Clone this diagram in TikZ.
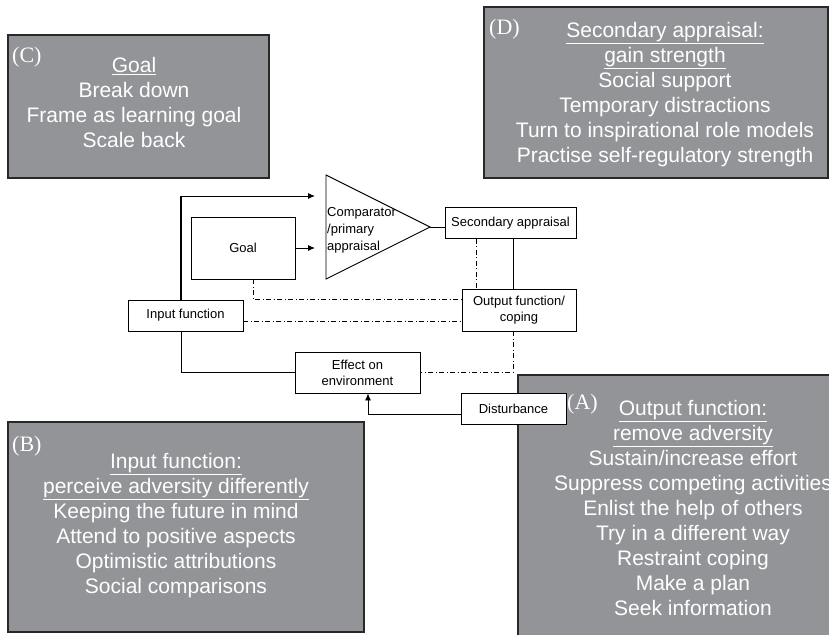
\documentclass[tikz,border=0pt]{standalone}
\usepackage{fontspec}
\setmainfont{Liberation Sans}
\newfontfamily\labfont{Liberation Serif}
\usetikzlibrary{arrows.meta,calc}
\definecolor{boxgray}{RGB}{147,148,152}
\definecolor{boxedge}{RGB}{40,40,40}
\begin{document}
\begin{tikzpicture}[x=1pt,y=-1pt,
  gbox/.style={draw=boxedge, fill=boxgray, line width=1.2pt, inner sep=0},
  gtext/.style={text=white, align=center, font=\fontsize{21}{25}\selectfont, inner sep=0},
  glab/.style={text=white, anchor=west, font=\labfont\fontsize{22}{24}\selectfont, inner sep=0},
  wbox/.style={draw=black, fill=white, line width=0.9pt, font=\fontsize{13}{16}\selectfont, align=center, inner sep=0},
  conn/.style={line width=0.9pt},
  dd/.style={conn, dash pattern=on 5pt off 2.5pt on 1pt off 2.5pt},
  arr/.style={-{Latex[length=7pt,width=6pt]}}]
\useasboundingbox (0,0) rectangle (829,634);
\clip (0,0) rectangle (829,634);

% grey boxes
\node[gbox, minimum width=261pt, minimum height=143pt] (boxC) at (138.5,106.5) {};
\node[gbox, minimum width=344pt, minimum height=171pt] (boxD) at (656,92.5) {};
\node[gbox, minimum width=356pt, minimum height=210pt] (boxB) at (186,527) {};
\node[gbox, minimum width=352pt, minimum height=285pt] (boxA) at (694,517.5) {};

\node[glab] (labC) at (12,57) {(C)};
\node[glab] (labD) at (489,29) {(D)};
\node[glab] (labB) at (12,446) {(B)};
\node[glab] (labA) at (567,404) {(A)};

\node[gtext] (tC) at (134,102.5) {\underline{Goal}\\Break down\\Frame as learning goal\\Scale back};
\node[gtext] (tD) at (665,95) {\underline{Secondary appraisal:}\\\underline{gain strength}\\Social support\\Temporary distractions\\Turn to inspirational role models\\Practise self-regulatory strength};
\node[gtext] (tB) at (176,526) {\underline{Input function:}\\\underline{perceive adversity differently}\\Keeping the future in mind\\Attend to positive aspects\\Optimistic attributions\\Social comparisons};
\node[gtext] (tA) at (693,507.5) {\underline{Output function:}\\\underline{remove adversity}\\Sustain/increase effort\\Suppress competing activities\\Enlist the help of others\\Try in a different way\\Restraint coping\\Make a plan\\Seek information};

% central diagram
\node[wbox, minimum width=104pt, minimum height=62pt] (goal) at (243,248) {Goal};
\node[wbox, minimum width=115pt, minimum height=31pt] (inp) at (185.5,315.5) {Input function};
\node[wbox, minimum width=131pt, minimum height=31pt] (sec) at (510.5,223) {Secondary appraisal};
\node[wbox, minimum width=114pt, minimum height=42pt] (out) at (519,310) {Output function/\\coping};
\node[wbox, minimum width=125pt, minimum height=41pt] (eff) at (357.5,372.5) {Effect on\\environment};
\node[wbox, minimum width=105pt, minimum height=31pt] (dist) at (513.5,408.5) {Disturbance};

\coordinate (tri1) at (326,196);
\coordinate (tri2) at (326,248);
\coordinate (apex) at (430,227);
\draw[conn, line join=miter] (326,175) -- (apex) -- (326,279) -- cycle;
\node[font=\fontsize{13}{17}\selectfont, align=left, anchor=west, inner sep=0] (cmp) at (327,230) {Comparator\\/primary\\appraisal};

\coordinate (corner) at (181,196);
\coordinate (xs) at (513,0);
\coordinate (xd) at (476,0);
\coordinate (gd) at (253,299);
\coordinate (id) at (0,321);
\coordinate (da) at (368,414);

\draw[line width=2pt] (inp.north -| corner) -- ([yshift=0.5pt]corner);
\draw[conn, arr, shorten >=11pt] (corner) -- (tri1);
\draw[conn, arr, shorten >=11pt] (goal.east) -- (tri2);
\draw[conn] (apex) -- (apex -| sec.west);
\draw[conn] (sec.south -| xs) -- (out.north -| xs);
\draw[dd] (sec.south -| xd) -- (out.north -| xd);
\draw[dd] (out.south -| xs) |- (eff.east);
\draw[conn] (inp.south -| corner) |- (eff.west);
\draw[dd] (goal.south -| gd) |- (out.west |- gd);
\draw[dd] (inp.east |- id) -- (out.west |- id);
\draw[conn, arr] (dist.west |- da) -| (eff.south -| da);
\end{tikzpicture}
\end{document}
